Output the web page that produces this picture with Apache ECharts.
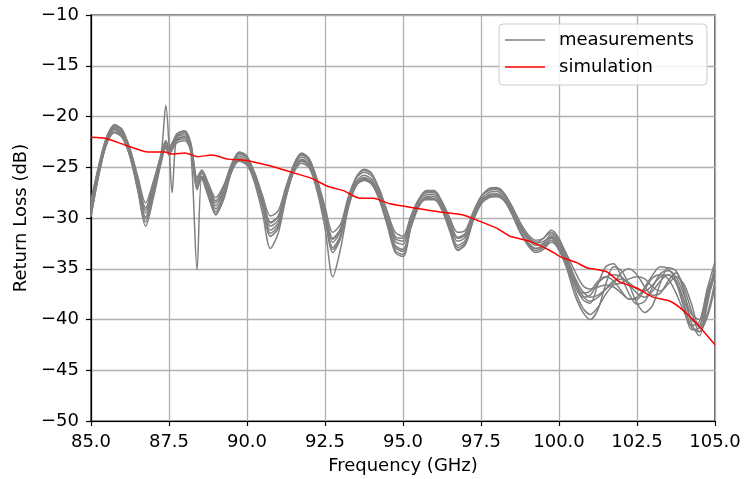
<!DOCTYPE html>
<html>
<head>
<meta charset="utf-8">
<script src="https://cdn.jsdelivr.net/npm/echarts@6/dist/echarts.min.js"></script>
<style>html,body{margin:0;padding:0;background:#fff;}#c{width:745px;height:479px;}</style>
</head>
<body>
<div id="c"></div>
<script>
const freq = [
  85, 85.25, 85.5, 85.75, 86, 86.25, 86.5, 86.75, 87, 87.25,
  87.4, 87.5, 87.6, 87.75, 88, 88.2, 88.4, 88.55, 88.75, 89,
  89.25, 89.5, 89.75, 90, 90.25, 90.5, 90.75, 91, 91.25, 91.5,
  91.75, 92, 92.25, 92.5, 92.75, 93, 93.25, 93.5, 93.75, 94,
  94.25, 94.5, 94.75, 95, 95.25, 95.5, 95.75, 96, 96.25, 96.5,
  96.75, 97, 97.25, 97.5, 97.75, 98, 98.25, 98.5, 98.75, 99,
  99.25, 99.5, 99.75, 100, 100.25, 100.5, 100.75, 101, 101.25, 101.5,
  101.75, 102, 102.25, 102.5, 102.75, 103, 103.25, 103.5, 103.75, 104,
  104.25, 104.5, 104.75, 105
];
const meas1 = [
  -29.0, -25.2, -22.3, -21.1, -21.6, -23.5, -26.5, -29.5, -27.0, -24.0,
  -22.6, -23.3, -22.8, -22.0, -21.8, -23.0, -26.6, -25.6, -27.0, -28.8,
  -27.4, -25.0, -23.9, -24.3, -25.9, -28.4, -30.8, -30.2, -27.4, -25.0,
  -24.0, -24.5, -26.6, -29.6, -32.4, -31.3, -28.3, -26.4, -25.8, -26.2,
  -27.7, -30.0, -32.3, -32.6, -30.4, -28.5, -27.7, -27.7, -28.7, -30.6,
  -32.3, -31.9, -29.8, -28.2, -27.5, -27.4, -27.9, -29.2, -30.9, -32.1,
  -32.7, -32.5, -31.8, -32.6, -34.2, -36.0, -37.6, -38.2, -37.8, -37.0,
  -36.2, -36.0, -36.4, -37.0, -37.2, -36.6, -35.8, -35.6, -36.2, -38.0,
  -40.0, -40.5, -38.0, -35.0
];
const meas2 = [
  -28.5, -24.8, -22.0, -20.9, -21.3, -23.2, -26.1, -29.0, -26.5, -23.6,
  -18.9, -22.8, -27.5, -21.8, -21.4, -22.6, -26.2, -25.3, -26.6, -28.3,
  -27.0, -24.7, -23.6, -24.0, -25.6, -28.0, -30.4, -29.8, -27.1, -24.7,
  -23.7, -24.2, -26.3, -29.2, -32.0, -31.0, -28.0, -26.0, -25.3, -25.7,
  -27.2, -29.5, -31.8, -32.0, -30.0, -28.2, -27.4, -27.4, -28.4, -30.2,
  -31.9, -31.5, -29.5, -27.9, -27.2, -27.1, -27.6, -28.9, -30.6, -31.8,
  -32.4, -32.0, -31.2, -32.0, -33.8, -36.0, -38.0, -38.4, -36.5, -34.8,
  -34.5, -35.8, -37.5, -38.5, -38.2, -36.8, -35.5, -35.2, -35.8, -37.5,
  -39.5, -40.0, -37.0, -34.3
];
const meas3 = [
  -29.8, -25.8, -22.6, -21.3, -21.9, -24.0, -27.3, -30.8, -28.0, -24.5,
  -22.9, -23.6, -23.1, -22.3, -22.0, -23.5, -35.1, -26.0, -27.8, -29.6,
  -28.2, -25.5, -24.2, -24.7, -26.6, -29.6, -33.0, -31.5, -28.0, -25.4,
  -24.3, -25.0, -27.4, -31.0, -35.8, -33.0, -29.0, -26.8, -26.1, -26.6,
  -28.3, -30.8, -33.4, -33.8, -31.0, -28.9, -28.0, -28.1, -29.2, -31.3,
  -33.2, -32.6, -30.3, -28.6, -27.8, -27.7, -28.3, -29.7, -31.4, -32.6,
  -33.2, -32.9, -32.2, -33.2, -35.0, -37.5, -39.2, -40.0, -39.0, -36.5,
  -34.8, -35.2, -36.6, -38.4, -39.3, -38.6, -36.4, -34.9, -35.2, -37.2,
  -40.4, -41.6, -38.6, -34.5
];
const meas4 = [
  -29.6, -25.7, -22.7, -21.5, -22.0, -23.9, -27.0, -30.1, -27.6, -24.5,
  -23.0, -23.7, -23.2, -22.4, -22.2, -23.4, -27.2, -26.1, -27.5, -29.4,
  -27.9, -25.5, -24.3, -24.7, -26.3, -28.9, -31.5, -30.8, -27.9, -25.4,
  -24.4, -24.9, -27.1, -30.2, -33.1, -31.9, -28.8, -26.8, -26.2, -26.6,
  -28.2, -30.5, -32.9, -33.3, -30.9, -28.9, -28.1, -28.1, -29.2, -31.1,
  -32.9, -32.4, -30.2, -28.6, -27.9, -27.8, -28.3, -29.6, -31.3, -32.5,
  -33.0, -32.8, -32.0, -33.0, -34.8, -37.0, -38.8, -39.5, -38.8, -37.5,
  -36.6, -36.4, -36.0, -35.8, -36.0, -36.8, -37.2, -36.5, -35.8, -36.5,
  -38.5, -40.8, -39.5, -36.2
];
const meas5 = [
  -28.2, -24.9, -22.1, -21.0, -21.4, -23.2, -25.9, -28.5, -26.4, -23.7,
  -22.4, -23.0, -22.6, -21.9, -21.6, -22.8, -26.0, -25.3, -26.5, -28.0,
  -26.8, -24.8, -23.7, -24.1, -25.6, -27.8, -29.8, -29.3, -26.9, -24.8,
  -23.8, -24.3, -26.2, -28.9, -31.4, -30.6, -27.9, -26.1, -25.5, -25.9,
  -27.3, -29.4, -31.4, -31.8, -29.8, -28.2, -27.5, -27.5, -28.4, -30.0,
  -31.4, -31.2, -29.4, -27.9, -27.3, -27.2, -27.7, -28.9, -30.4, -31.6,
  -32.2, -32.0, -31.4, -32.2, -33.6, -35.2, -36.6, -37.0, -36.8, -36.6,
  -36.8, -37.4, -38.0, -37.8, -36.8, -35.6, -34.8, -35.0, -36.2, -38.4,
  -40.8, -41.2, -38.2, -35.6
];
const meas6 = [
  -29.4, -25.5, -22.5, -21.2, -21.7, -23.7, -26.8, -29.9, -27.3, -24.2,
  -22.8, -23.5, -23.0, -22.2, -22.0, -23.2, -26.9, -25.9, -27.2, -29.1,
  -27.7, -25.2, -24.1, -24.5, -26.1, -28.7, -31.2, -30.5, -27.7, -25.2,
  -24.2, -24.7, -26.9, -30.0, -32.9, -31.7, -28.6, -26.6, -26.0, -26.4,
  -27.9, -30.3, -32.7, -33.1, -30.8, -28.8, -27.9, -27.9, -28.9, -30.9,
  -32.7, -32.2, -30.1, -28.4, -27.7, -27.6, -28.1, -29.5, -31.2, -32.4,
  -33.0, -32.6, -31.6, -32.4, -34.0, -35.8, -37.2, -37.8, -37.6, -37.0,
  -36.4, -35.4, -35.0, -35.6, -36.8, -37.6, -37.4, -36.2, -35.4, -36.8,
  -39.2, -41.2, -39.8, -36.8
];
const meas7 = [
  -29.9, -25.6, -22.2, -20.8, -21.3, -23.6, -27.2, -30.4, -27.5, -24.0,
  -22.4, -23.2, -22.7, -21.7, -21.5, -22.9, -27.0, -25.5, -27.6, -29.7,
  -27.9, -24.9, -23.5, -23.9, -25.8, -28.9, -31.8, -31.0, -27.6, -24.8,
  -23.6, -24.2, -26.6, -30.1, -33.4, -32.0, -28.4, -26.0, -25.2, -25.6,
  -27.5, -30.4, -33.2, -33.6, -30.8, -28.3, -27.3, -27.3, -28.5, -30.9,
  -33.1, -32.6, -30.0, -28.0, -27.1, -27.0, -27.6, -29.2, -31.2, -32.7,
  -33.4, -33.1, -32.4, -33.0, -34.4, -36.3, -37.4, -37.2, -36.2, -35.8,
  -36.2, -37.2, -38.0, -38.0, -37.0, -35.9, -35.6, -36.0, -37.4, -39.2,
  -40.6, -40.2, -37.2, -35.4
];
const meas8 = [
  -28.8, -25.3, -22.7, -21.6, -22.1, -23.8, -26.5, -29.2, -26.9, -24.2,
  -23.1, -23.8, -23.3, -22.6, -22.4, -23.4, -26.4, -25.9, -26.9, -28.5,
  -27.3, -25.3, -24.4, -24.8, -26.2, -28.3, -30.5, -29.9, -27.4, -25.5,
  -24.6, -25.1, -26.9, -29.5, -32.1, -31.1, -28.4, -26.8, -26.3, -26.7,
  -28.0, -30.0, -32.0, -32.3, -30.3, -28.7, -28.2, -28.2, -29.0, -30.5,
  -32.0, -31.7, -29.9, -28.6, -28.0, -27.9, -28.3, -29.4, -30.8, -31.9,
  -32.5, -32.3, -31.9, -32.8, -34.6, -36.6, -37.8, -37.6, -36.4, -35.8,
  -35.6, -35.8, -36.6, -37.4, -37.8, -37.2, -36.2, -35.6, -36.4, -38.8,
  -41.0, -40.8, -37.6, -35.2
];
const simFreq = [
  85.0, 85.45, 86.09, 86.83, 87.37, 87.59, 88.01, 88.43, 88.87, 89.4,
  90.03, 90.79, 91.22, 92.07, 92.6, 93.09, 93.62, 94.05, 94.58, 95.44,
  96.19, 96.93, 97.36, 98.0, 98.43, 99.07, 99.71, 100.03, 100.57, 100.89,
  101.53, 101.95, 102.49, 103.02, 103.56, 103.98, 104.41, 105.0
];
const simValues = [
  -22.05, -22.15, -22.8, -23.5, -23.5, -23.7, -23.6, -23.96, -23.8, -24.2,
  -24.35, -24.9, -25.3, -26.1, -26.9, -27.3, -28.06, -28.06, -28.6, -29.05,
  -29.4, -29.7, -30.2, -31.0, -31.8, -32.3, -33.2, -33.8, -34.4, -34.9,
  -35.3, -36.3, -36.9, -37.8, -38.2, -39.1, -40.4, -42.5
];
const measurements = [meas1, meas2, meas3, meas4, meas5, meas6, meas7, meas8];
const xTicks = [85, 87.5, 90, 92.5, 95, 97.5, 100, 102.5, 105];
const yTicks = [-50, -45, -40, -35, -30, -25, -20, -15, -10];

const FONT = 'DejaVu Sans';
const FS = 18;
const chart = echarts.init(document.getElementById('c'), null, {renderer: 'canvas'});
const series = measurements.map(m => ({
  name: 'measurements',
  type: 'line',
  data: freq.map((f, i) => [f, m[i]]),
  showSymbol: false,
  smooth: 0.3,
  lineStyle: {color: '#808080', width: 1.5},
  itemStyle: {color: '#808080'},
  silent: true,
  z: 2
}));
series.push({
  name: 'simulation',
  type: 'line',
  data: simFreq.map((f, i) => [f, simValues[i]]),
  showSymbol: false,
  smooth: 0.2,
  lineStyle: {color: '#ff0000', width: 1.5},
  itemStyle: {color: '#ff0000'},
  silent: true,
  z: 3
});
chart.setOption({
  animation: false,
  backgroundColor: '#ffffff',
  textStyle: {fontFamily: FONT},
  grid: {left: 91, right: 30, top: 15, bottom: 58, outerBoundsMode: 'none', containLabel: false,
    show: true, borderColor: '#000', borderWidth: 1.2, backgroundColor: 'transparent'},
  legend: {
    data: [
      {name: 'measurements', icon: 'rect'},
      {name: 'simulation', icon: 'rect'}
    ],
    left: 499, top: 24,
    orient: 'vertical',
    itemWidth: 40, itemHeight: 1.5, itemGap: 7,
    padding: [6, 13, 8, 6],
    backgroundColor: 'rgba(255,255,255,0.85)',
    borderColor: '#cccccc', borderWidth: 1, borderRadius: 4,
    textStyle: {fontFamily: FONT, fontSize: FS, lineHeight: 20, color: '#000', padding: [0, 0, 0, 9]}
  },
  xAxis: {
    type: 'value', min: 85, max: 105, interval: 2.5,
    name: 'Frequency (GHz)', nameLocation: 'middle', nameGap: 36,
    nameTextStyle: {fontFamily: FONT, fontSize: FS, color: '#000'},
    axisLine: {show: true, lineStyle: {color: '#000', width: 1.2}},
    axisTick: {show: true, inside: false, length: 5, lineStyle: {color: '#000', width: 1.2}},
    axisLabel: {fontFamily: FONT, fontSize: FS, color: '#000', margin: 12,
      formatter: v => xTicks.includes(v) ? v.toFixed(1) : ''},
    splitLine: {show: true, lineStyle: {color: '#b0b0b0', width: 1.3}}
  },
  yAxis: {
    type: 'value', min: -50, max: -10, interval: 5,
    name: 'Return Loss (dB)', nameLocation: 'middle', nameGap: 60, nameRotate: 90,
    nameTextStyle: {fontFamily: FONT, fontSize: FS, color: '#000'},
    axisLine: {show: true, lineStyle: {color: '#000', width: 1.2}},
    axisTick: {show: true, inside: false, length: 5, lineStyle: {color: '#000', width: 1.2}},
    axisLabel: {fontFamily: FONT, fontSize: FS, color: '#000', margin: 12,
      formatter: v => yTicks.includes(v) ? (v < 0 ? '\u2212' + Math.abs(v) : String(v)) : ''},
    splitLine: {show: true, lineStyle: {color: '#b0b0b0', width: 1.3}}
  },
  series: series
});
</script>
</body>
</html>
